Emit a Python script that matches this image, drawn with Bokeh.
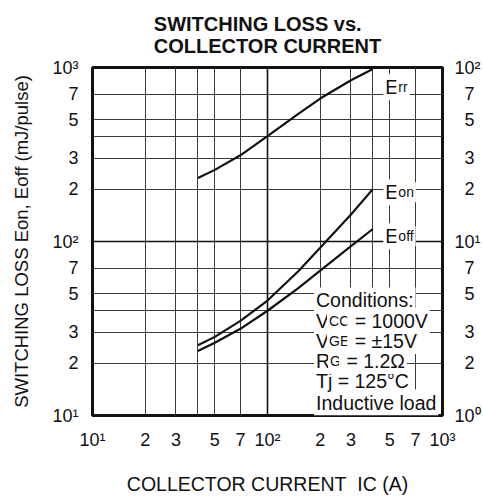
import math
from bokeh.plotting import figure
from bokeh.models import (Range1d, LogScale, LogAxis, FixedTicker, Grid, Label, Title)
from bokeh.embed import file_html
from bokeh.resources import INLINE

# ---------------- data ----------------
ic_a = [40, 50, 70, 100, 150, 200, 300, 400]                 # collector current (A)
e_on = [25.3, 28.3, 35.0, 45.8, 67.5, 92.0, 143.0, 200.0]    # left axis, mJ/pulse
e_off = [23.5, 26.2, 31.5, 40.0, 54.0, 68.0, 94.0, 118.0]    # left axis, mJ/pulse
e_rr = [23.2, 25.8, 31.3, 40.3, 54.2, 66.3, 84.5, 98.0]      # right axis

x_ticks = [10, 20, 30, 40, 50, 70, 100, 200, 300, 400, 500, 700, 1000]
x_tick_labels = ["10¹", "2", "3", "", "5", "7", "10²", "2", "3", "", "5", "7", "10³"]
y_ticks = [10, 20, 30, 40, 50, 70, 100, 200, 300, 400, 500, 700, 1000]
y_tick_labels = ["10¹", "2", "3", "", "5", "7", "10²", "2", "3", "", "5", "7", "10³"]
yr_ticks = [1, 2, 3, 5, 7, 10, 20, 30, 50, 70, 100]
yr_tick_labels = ["10⁰", "2", "3", "5", "7", "10¹", "2", "3", "5", "7", "10²"]
grid_minor = [20, 30, 40, 50, 70, 200, 300, 400, 500, 700]
grid_decade = [100]

title_text = "SWITCHING LOSS vs.\nCOLLECTOR CURRENT"
x_title = "COLLECTOR CURRENT\u00a0 IC (A)"
y_title = "SWITCHING LOSS Eon, Eoff (mJ/pulse)"
conditions = [
    [("Conditions:", "M")],
    [("V", "M"), ("CC", "S"), (" = 1000V", "M")],
    [("V", "M"), ("GE", "S"), (" = ±15V", "M")],
    [("R", "M"), ("G", "S"), (" = 1.2Ω", "M")],
    [("Tj = 125°C", "M")],
    [("Inductive load", "M")],
]
curve_labels = [[("E", "M"), ("rr", "S")], [("E", "M"), ("on", "S")], [("E", "M"), ("off", "S")]]

# ---------------- layout / style ----------------
W, H = 483, 497
FL, FR, FT, FB = 92, 447, 67, 424          # frame edges in page px
FONT = "Liberation Sans"
INK = "#111111"
SIZES = {"M": 19.5, "S": 14.0}

ADV = {' ': 278, '\u00a0': 278, ',': 278, '.': 278, '(': 333, ')': 333, '/': 278, ':': 278,
       '=': 584, '±': 584, '°': 400, 'Ω': 768,
       'A': 667, 'C': 722, 'D': 722, 'E': 667, 'G': 778, 'H': 722, 'I': 278, 'L': 556,
       'N': 722, 'O': 778, 'R': 722, 'S': 667, 'T': 611, 'U': 722, 'V': 667, 'W': 944,
       'a': 556, 'c': 500, 'd': 556, 'e': 556, 'f': 278, 'i': 222, 'j': 222, 'l': 222,
       'm': 833, 'n': 556, 'o': 556, 'p': 556, 'r': 333, 's': 500, 't': 278, 'u': 556,
       'v': 500, 'J': 500}
for dch in "0123456789":
    ADV[dch] = 556


def adv(s, size):
    return sum(ADV.get(c, 556) for c in s) * size / 1000.0


def dx(px):
    return 10 ** (1 + 2.0 * (px - FL) / (FR - FL))


def dy(py):
    return 10 ** (1 + 2.0 * (FB - py) / (FB - FT))


p = figure(width=W, height=H, x_axis_type="log", y_axis_type="log",
           x_range=Range1d(10, 1000), y_range=Range1d(10, 1000),
           output_backend="svg", toolbar_location=None, title=None,
           min_border_left=FL, min_border_right=W - FR,
           min_border_top=FT, min_border_bottom=H - FB)
p.background_fill_color = "white"
p.border_fill_color = "white"
p.outline_line_color = INK
p.outline_line_width = 3

p.extra_y_ranges = {"r": Range1d(1, 100)}
p.extra_y_scales = {"r": LogScale()}

raxis = LogAxis(y_range_name="r")
p.add_layout(raxis, "right")

xax, yax = p.below[0], p.left[0]
for ax, ticks, labels in ((xax, x_ticks, x_tick_labels), (yax, y_ticks, y_tick_labels),
                          (raxis, yr_ticks, ["\u2007" + t if len(t) == 1 else t for t in yr_tick_labels])):
    ax.ticker = FixedTicker(ticks=ticks, minor_ticks=[])
    ax.major_label_overrides = dict(zip(ticks, labels))
    ax.major_tick_line_color = None
    ax.minor_tick_line_color = None
    ax.axis_line_color = None
    ax.major_label_text_font = FONT
    ax.major_label_text_font_size = "18px"
    ax.major_label_text_color = INK
    ax.major_label_standoff = 8
raxis.major_label_standoff = 6

for ax, txt, size, so in ((xax, x_title, "19.5px", 20), (yax, y_title, "18.5px", 17)):
    ax.axis_label = txt
    ax.axis_label_text_font = FONT
    ax.axis_label_text_font_size = size
    ax.axis_label_text_font_style = "normal"
    ax.axis_label_text_color = INK
    ax.axis_label_standoff = so

# two-line title
p.add_layout(Title(text=title_text, align="center", text_font=FONT, text_font_size="20px",
                   text_font_style="bold", text_color=INK, text_line_height=1.0,
                   standoff=21), "above")

# grids
p.xgrid.ticker = FixedTicker(ticks=grid_minor, minor_ticks=[])
p.ygrid.ticker = FixedTicker(ticks=grid_minor, minor_ticks=[])
for g in (p.xgrid[0], p.ygrid[0]):
    g.grid_line_color = "#3a3a3a"
    g.grid_line_width = 1
    g.grid_line_alpha = 1
for dim in (0, 1):
    p.add_layout(Grid(dimension=dim, ticker=FixedTicker(ticks=grid_decade, minor_ticks=[]),
                      grid_line_color=INK, grid_line_width=1.6))

# curves
p.line(ic_a, e_on, line_width=2.2, line_color=INK)
p.line(ic_a, e_off, line_width=2.2, line_color=INK)
p.line(ic_a, e_rr, line_width=2.2, line_color=INK, y_range_name="r")


def segments(parts, px, py, pad=2):
    off = 0.0
    for txt, sz in parts:
        size = SIZES[sz]
        lead = len(txt) - len(txt.lstrip(" "))
        txt = "\u00a0" * lead + txt.lstrip(" ")
        p.add_layout(Label(x=dx(px), y=dy(py), x_offset=off, text=txt,
                           text_align="left", text_baseline="alphabetic",
                           text_font=FONT, text_font_size=f"{size}px", text_color=INK,
                           background_fill_color="white", padding=pad))
        off += adv(txt, size)


# conditions block (drawn bottom line first so upper descenders stay visible)
cond_baselines = (306, 327, 347.7, 368, 389, 410.7)
for parts, base in reversed(list(zip(conditions, cond_baselines))):
    segments(parts, 316.7, base)

# curve labels
for parts, base in zip(curve_labels, (87.3, 195, 240)):
    segments(parts, 387, base)

open("out.html", "w").write(file_html(p, INLINE))
